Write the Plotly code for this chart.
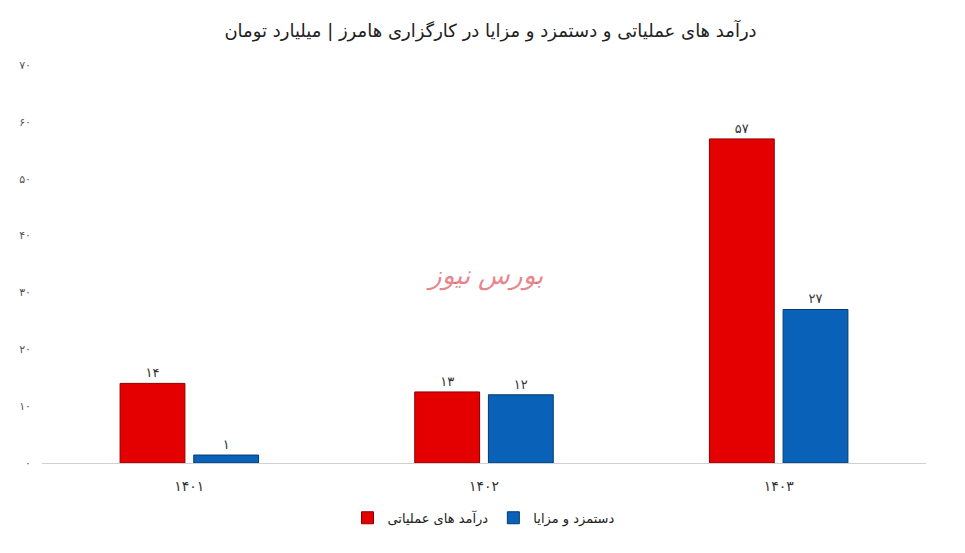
import plotly.graph_objects as go

years = ["۱۴۰۱", "۱۴۰۲", "۱۴۰۳"]
revenue = [14, 12.5, 57]
revenue_labels = ["۱۴", "۱۳", "۵۷"]
fees = [1.4, 12, 27]
fees_labels = ["۱", "۱۲", "۲۷"]
tick_vals = [0, 10, 20, 30, 40, 50, 60, 70]
tick_text = ["۰", "۱۰", "۲۰", "۳۰", "۴۰", "۵۰", "۶۰", "۷۰"]

fig = go.Figure()
fig.add_trace(go.Bar(x=years, y=revenue, name="درآمد های عملیاتی",
                     text=revenue_labels, textposition="outside",
                     marker=dict(color="#e50000", line=dict(color="#8a0000", width=1)),
                     textfont=dict(size=13, color="#333")))
fig.add_trace(go.Bar(x=years, y=fees, name="دستمزد و مزایا",
                     text=fees_labels, textposition="outside",
                     marker=dict(color="#0a62b8", line=dict(color="#063a6e", width=1)),
                     textfont=dict(size=13, color="#333")))

fig.add_annotation(text="<i>بورس نیوز</i>", x=0.5, y=0.47, xref="paper", yref="paper",
                   showarrow=False, font=dict(size=26, color="rgba(220,80,90,0.7)",
                                              family="DejaVu Serif"))

fig.update_layout(
    width=965, height=553,
    title=dict(text="درآمد های عملیاتی و دستمزد و مزایا در کارگزاری هامرز | میلیارد تومان",
               x=0.5, y=0.97, xanchor="center", font=dict(size=18, color="#222", family="DejaVu Sans")),
    plot_bgcolor="white", paper_bgcolor="white",
    barmode="group", bargap=0.5, bargroupgap=0.12,
    margin=dict(l=34, r=47, t=57, b=98),
    font=dict(family="DejaVu Sans", color="#444"),
    yaxis=dict(range=[0, 70], tickvals=tick_vals, ticktext=tick_text, showgrid=False,
               zeroline=False, ticklabelstandoff=10, tickfont=dict(size=11, color="#555")),
    xaxis=dict(showline=True, linecolor="#d0d0d0", ticklabelstandoff=10,
               tickfont=dict(size=14, color="#333")),
    legend=dict(orientation="h", x=0.5, xanchor="center", y=-0.1, font=dict(size=13, color="#222")),
)

fig.write_html("out.html")
